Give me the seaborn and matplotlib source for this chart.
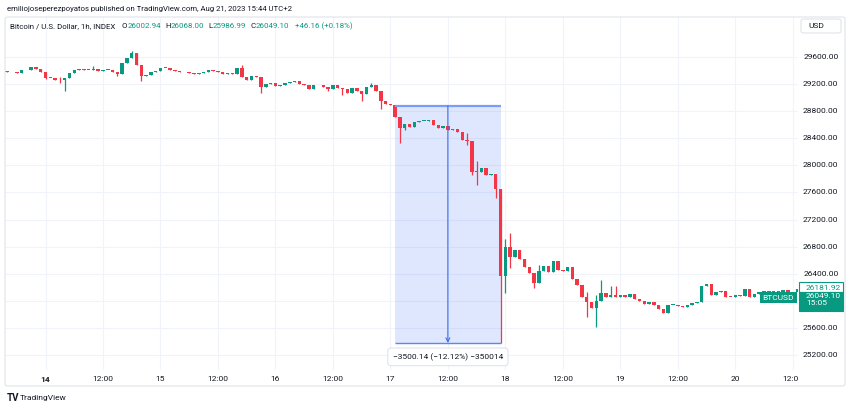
import matplotlib
matplotlib.use("Agg")
import numpy as np
import pandas as pd
import matplotlib.pyplot as plt
import seaborn as sns
from matplotlib.patches import Rectangle, FancyBboxPatch
from matplotlib.transforms import blended_transform_factory

# BTC/USD hourly candles, Aug 13 16:00 -> Aug 20 13:00
first_open = 29393
closes = [
    29379, 29371, 29364, 29401, 29408, 29452, 29416, 29379, 29297, 29290,
    29260, 29253, 29294, 29364, 29404, 29423, 29404, 29413, 29418, 29393,
    29408, 29413, 29374, 29353, 29504, 29585, 29659, 29482, 29320, 29334,
    29383, 29393, 29442, 29433, 29413, 29393, 29374, 29371, 29364, 29356,
    29364, 29379, 29408, 29398, 29371, 29353, 29359, 29349, 29438, 29309,
    29260, 29320, 29309, 29162, 29201, 29221, 29172, 29191, 29221, 29231,
    29241, 29201, 29182, 29123, 29179, 29182, 29162, 29132, 29182, 29142,
    29132, 29064, 29142, 29094, 29054, 29153, 29182, 29094, 28955, 28906,
    28892, 28714, 28556, 28607, 28567, 28645, 28651, 28655, 28666, 28596,
    28548, 28577, 28518, 28537, 28489, 28371, 28360, 27907, 27900, 27962,
    27858, 27873, 27656, 26368, 26800, 26644, 26751, 26623, 26496, 26407,
    26269, 26446, 26515, 26427, 26585, 26456, 26446, 26496, 26328, 26239,
    26062, 25984, 25895, 26003, 26117, 26062, 26083, 26062, 26080, 26062,
    26102, 26024, 26003, 25954, 25984, 25935, 25876, 25826, 25935, 25944,
    25925, 25914, 25935, 25974, 25984, 26220, 26249, 26092, 26131, 26151,
    26062, 26053, 26083, 26072, 26180, 26062, 26102, 26125, 26146, 26117,
    26146, 26102, 26161, 26049, 26131, 26182,
]
# visible wicks beyond the bodies
wick_high = {11: 29305, 18: 29463, 26: 29690, 49: 29477, 76: 29212, 96: 28483,
             98: 28065, 104: 26909, 105: 26998, 111: 26530, 121: 26136,
             123: 26083, 124: 26309, 126: 26222, 127: 26222}
wick_low = {8: 29275, 11: 29216, 12: 29098, 23: 29324, 28: 29250, 53: 29073,
            67: 29103, 70: 29044, 74: 28946, 78: 28837, 82: 28335, 83: 28527,
            96: 28301, 97: 27858, 98: 27711, 102: 27515, 103: 25383,
            104: 26112, 105: 26481, 110: 26186, 121: 25767, 123: 25620}

time_ticks = [8, 20, 32, 44, 56, 68, 80, 92, 104, 116, 128, 140, 152, 164]
time_labels = ["14", "12:00", "15", "12:00", "16", "12:00", "17", "12:00",
               "18", "12:00", "19", "12:00", "20", "12:00"]
price_ticks = [25200, 25600, 26000, 26400, 26800, 27200, 27600, 28000,
               28400, 28800, 29200, 29600]

# price range measurement
measure_start, measure_end = 81, 103
measure_top, measure_bottom = 28879.14, 25379.00
measure_text = "\u22123500.14 (\u221212.12%) \u2212350014"

last_price = 26049.10
marked_price = 26181.92
countdown = "15:05"
title = "emiliojoseperezpoyatos published on TradingView.com, Aug 21, 2023 15:44 UTC+2"
legend = [("Bitcoin / U.S. Dollar, 1h, INDEX", "dark", 6),
          ("O", "dark", 0.5), ("26002.94", "green", 4),
          ("H", "dark", 0.5), ("26068.00", "green", 4),
          ("L", "dark", 0.5), ("25986.99", "green", 4),
          ("C", "dark", 0.5), ("26049.10", "green", 5),
          ("+46.16 (+0.18%)", "green", 0)]

GREEN = "#089981"
RED = "#f23645"
TEXT = "#131722"
GRID = "#f0f3fa"
BORDER = "#e0e3eb"
W, H = 850, 409

sns.set_theme(style="white")
plt.rcParams["font.family"] = ["Roboto", "Liberation Sans", "DejaVu Sans"]

df = pd.DataFrame({"close": closes})
df["open"] = [first_open] + closes[:-1]
df["high"] = df[["open", "close"]].max(axis=1)
df["low"] = df[["open", "close"]].min(axis=1)
for i, v in wick_high.items():
    df.loc[i, "high"] = v
for i, v in wick_low.items():
    df.loc[i, "low"] = v

fig = plt.figure(figsize=(W / 100, H / 100), dpi=100)


def fbox(x0, y0, x1, y1):
    return [x0 / W, 1 - y1 / H, (x1 - x0) / W, (y1 - y0) / H]


ax = fig.add_axes(fbox(5, 17, 798, 370))
pax = fig.add_axes(fbox(798, 17, 845, 386))
ax.set_zorder(1)
pax.set_zorder(2)

# candles
up = df["close"] >= df["open"]
colors = np.where(up, GREEN, RED)
body = (df["close"] - df["open"]).abs().clip(lower=12)
bottom = df[["open", "close"]].min(axis=1)
ax.vlines(df.index, df["low"], df["high"], colors=colors, lw=0.9, zorder=3)
ax.bar(df.index, body, bottom=bottom, width=0.72, color=colors, lw=0, zorder=4)

ax.set_xlim(-0.46, 165.1)
ax.set_ylim(24980, 30190)
ax.set_yticks(price_ticks)
ax.set_xticks(time_ticks, time_labels)
ax.grid(True, color=GRID, lw=0.8)
ax.set_axisbelow(True)
ax.tick_params(axis="y", left=False, labelleft=False)
ax.tick_params(axis="x", length=0, pad=4, labelsize=6, labelcolor=TEXT)
ax.get_xticklabels()[0].set_fontweight("bold")
for s in ax.spines.values():
    s.set_visible(False)

# measurement tool
mid = (measure_start + measure_end) / 2
ax.add_patch(Rectangle((measure_start, measure_bottom), measure_end - measure_start,
                       measure_top - measure_bottom, fc="#2962ff", alpha=0.15,
                       lw=0, zorder=2))
ax.hlines(measure_top, measure_start, measure_end, color="#7b9cf7", lw=1.6, zorder=5)
ax.hlines(measure_bottom, measure_start, measure_end, color="#5b86f3", lw=1.0, zorder=5)
ax.annotate("", xy=(mid, measure_bottom), xytext=(mid, measure_top),
            arrowprops=dict(arrowstyle="->", color="#3d6ef0", lw=0.8,
                            shrinkA=0, shrinkB=0, mutation_scale=7), zorder=5)
ax.annotate(measure_text, xy=(mid, measure_bottom), xytext=(0, -10),
            textcoords="offset points", ha="center", va="center", fontsize=6,
            color=TEXT, zorder=6,
            bbox=dict(boxstyle="round,pad=0.6,rounding_size=0.4", fc="white",
                      ec=BORDER, lw=0.8))

# BTCUSD tag
tb = blended_transform_factory(ax.transAxes, ax.transData)
ax.text(0.995, last_price, "BTCUSD", transform=tb, ha="right", va="center",
        fontsize=6, color="white", zorder=7,
        bbox=dict(boxstyle="square,pad=0.3", fc=GREEN, ec="none"))

# price scale
pax.set_xlim(0, 1)
pax.set_ylim(24744, 30190)
pax.set_xticks([])
pax.set_yticks([])
pax.set_facecolor("white")
for s in pax.spines.values():
    s.set_visible(False)
pt = blended_transform_factory(pax.transAxes, pax.transData)
for p in price_ticks:
    if abs(p - last_price) < 150:
        continue  # hidden under the last-price tag
    pax.text(0.86, p, f"{p:.2f}", transform=pt, ha="right", va="center",
             fontsize=6, color=TEXT)
pax.add_patch(Rectangle((0.02, marked_price - 55), 0.93, 150, transform=pt,
                        fc="white", ec=GREEN, lw=0.8, zorder=4))
pax.text(0.17, marked_price + 15, f"{marked_price:.2f}", transform=pt, ha="left",
         va="center", fontsize=6, color=GREEN, zorder=5)
pax.add_patch(Rectangle((0.02, last_price - 205), 0.93, 293, transform=pt,
                        fc=GREEN, ec=GREEN, lw=0.8, zorder=4))
pax.text(0.17, last_price + 62, f"{last_price:.2f}\n{countdown}", transform=pt,
         ha="left", va="top", fontsize=6, linespacing=1.05, color="white", zorder=5)

# frame, currency box
fig.patches.append(FancyBboxPatch((5 / W, 1 - 386 / H), 840 / W, 369 / H,
                                  boxstyle="round,pad=0,rounding_size=0.004",
                                  transform=fig.transFigure, fill=False,
                                  ec=BORDER, lw=0.8, zorder=10))
fig.patches.append(FancyBboxPatch((801 / W, 1 - 33 / H), 40 / W, 14 / H,
                                  boxstyle="round,pad=0,rounding_size=0.004",
                                  transform=fig.transFigure, fill=False,
                                  ec=BORDER, lw=0.8, zorder=10))
fig.text(808 / W, 1 - 26 / H, "USD", fontsize=6, color=TEXT, va="center")

# header texts
fig.text(7 / W, 1 - 9 / H, title, fontsize=5.6, color=TEXT, va="center")
renderer = fig.canvas.get_renderer()
x = 10
for s, col, gap in legend:
    t = fig.text(x / W, 1 - 26 / H, s, fontsize=5.7, va="center",
                 color=GREEN if col == "green" else TEXT)
    x = t.get_window_extent(renderer).x1 + gap

# footer logo
fig.text(7 / W, 1 - 398 / H, "TV", fontsize=7, fontweight="bold", color=TEXT, va="center")
fig.text(20 / W, 1 - 398 / H, "TradingView", fontsize=6, color=TEXT, va="center")

fig.savefig("out.png", dpi=100, facecolor="white")
